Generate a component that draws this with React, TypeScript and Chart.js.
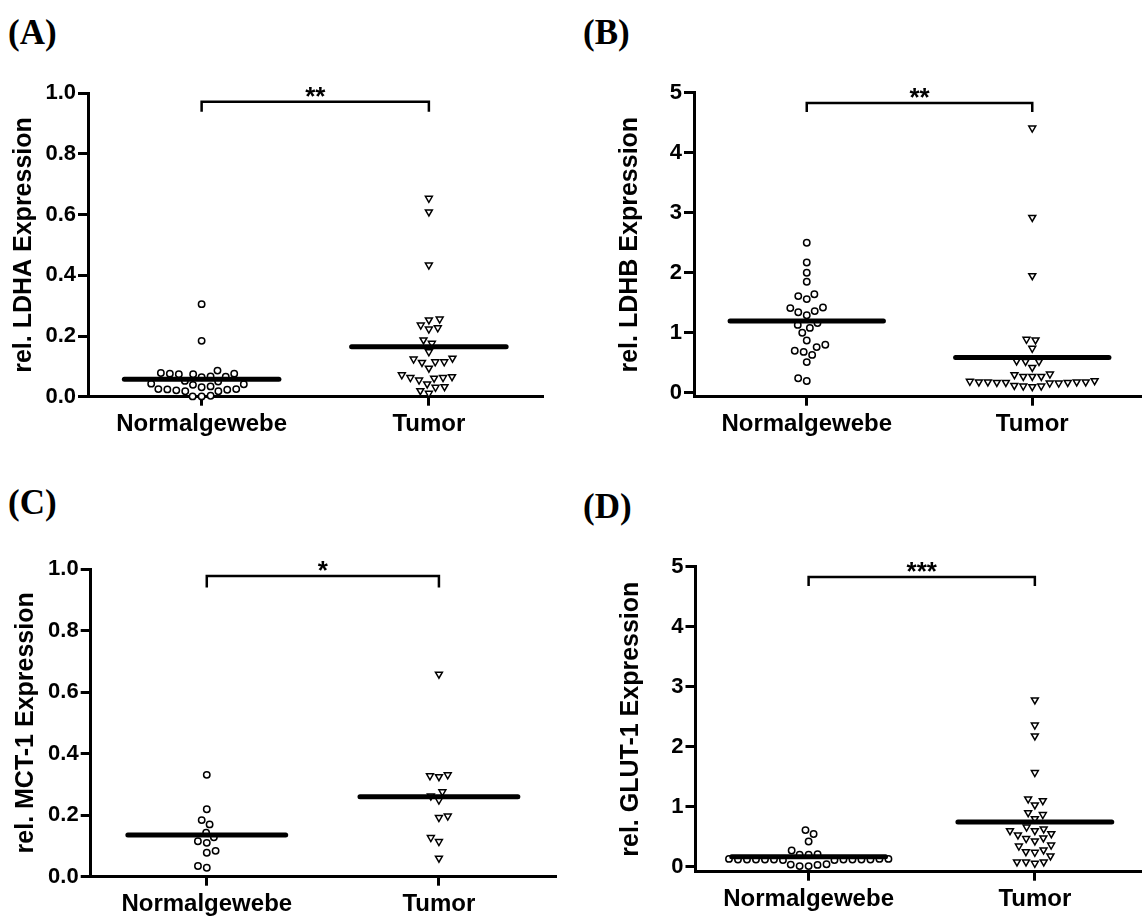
import { useEffect, useRef } from 'react';
import { Chart, registerables } from 'chart.js';

Chart.register(...registerables);

// ---- data -------------------------------------------------------------
const groups = ['Normalgewebe', 'Tumor'];

const ldhaNormal = [0.305, 0.184, 0.086, 0.076, 0.074, 0.067, 0.074, 0.076, 0.078, 0.066, 0.064, 0.052, 0.043, 0.039, 0.034, 0.041, 0.05, 0.031, 0.025, 0.023, 0.018, 0.018, 0.021, 0.024, 0.025, 0.003, 0.001, 0.001];
const ldhaTumor = [0.654, 0.609, 0.434, 0.256, 0.253, 0.236, 0.223, 0.227, 0.187, 0.176, 0.148, 0.124, 0.115, 0.113, 0.115, 0.127, 0.094, 0.066, 0.063, 0.072, 0.055, 0.061, 0.063, 0.031, 0.042, 0.033, 0.011, 0.02];

const ldhbNormal = [2.5, 2.17, 2.0, 1.85, 1.64, 1.56, 1.61, 1.41, 1.34, 1.29, 1.36, 1.42, 1.16, 1.08, 1.13, 1.0, 0.87, 0.76, 0.68, 0.63, 0.7, 0.8, 0.51, 0.195, 0.24];
const ldhbTumor = [4.41, 2.92, 1.95, 0.88, 0.74, 0.89, 0.52, 0.42, 0.52, 0.53, 0.3, 0.27, 0.27, 0.27, 0.31, 0.11, 0.1, 0.11, 0.12, 0.18, 0.17, 0.16, 0.16, 0.18, 0.17, 0.18, 0.19, 0.17, 0.18, 0.2];

const mct1Normal = [0.331, 0.219, 0.184, 0.17, 0.128, 0.143, 0.11, 0.115, 0.084, 0.078, 0.029, 0.035];
const mct1Tumor = [0.658, 0.331, 0.325, 0.328, 0.276, 0.262, 0.249, 0.192, 0.197, 0.127, 0.114, 0.06];

const glut1Normal = [0.61, 0.545, 0.42, 0.27, 0.2, 0.2, 0.21, 0.13, 0.12, 0.12, 0.11, 0.12, 0.13, 0.12, 0.12, 0.11, 0.12, 0.12, 0.13, 0.12, 0.12, 0.04, 0.035, 0.01, 0.01, 0.03];
const glut1Tumor = [2.78, 2.36, 2.18, 1.57, 1.1, 1.03, 1.13, 0.9, 0.8, 0.87, 0.66, 0.6, 0.6, 0.63, 0.55, 0.48, 0.43, 0.47, 0.53, 0.345, 0.25, 0.24, 0.28, 0.36, 0.18, 0.08, 0.056, 0.08, 0.08];

const fractionTicks = [0, 0.2, 0.4, 0.6, 0.8, 1.0];
const wholeTicks = [0, 1, 2, 3, 4, 5];

// ---- styling ----------------------------------------------------------
const FONT = "'Liberation Sans', Arial, Helvetica, sans-serif";
const SERIF = "'Liberation Serif', 'Times New Roman', serif";
const DOT_GAP = 9; // px between neighbouring markers in a column
const MEAN_HALF = 0.34; // half length of the mean bar, in category units

type Panel = {
  letter: string;
  yTitle: string;
  normal: number[];
  tumor: number[];
  yTicks: number[];
  decimals: number;
  yMin: number;
  yMax: number;
  xMax: number;
  stars: string;
  bracketTop: number;
  bracketFoot: number;
  box: { left: number; top: number; width: number; height: number };
  area: { left: number; right: number; top: number; bottom: number };
  titleX: number;
  letterAt: { left: number; top: number };
};

const panels: Panel[] = [
  {
    letter: '(A)', yTitle: 'rel. LDHA Expression', normal: ldhaNormal, tumor: ldhaTumor,
    yTicks: fractionTicks, decimals: 1, yMin: 0, yMax: 1, xMax: 1.5,
    stars: '**', bracketTop: 0.972, bracketFoot: 0.939,
    box: { left: 0, top: 50, width: 573, height: 410 },
    area: { left: 88, right: 542.5, top: 93.3, bottom: 396.7 },
    titleX: 24, letterAt: { left: 8, top: 15 },
  },
  {
    letter: '(B)', yTitle: 'rel. LDHB Expression', normal: ldhbNormal, tumor: ldhbTumor,
    yTicks: wholeTicks, decimals: 0, yMin: -0.0667, yMax: 5, xMax: 1.48,
    stars: '**', bracketTop: 4.83, bracketFoot: 4.68,
    box: { left: 573, top: 50, width: 573, height: 410 },
    area: { left: 694, right: 1146, top: 92.7, bottom: 396.7 },
    titleX: 630, letterAt: { left: 583, top: 15 },
  },
  {
    letter: '(C)', yTitle: 'rel. MCT-1 Expression', normal: mct1Normal, tumor: mct1Tumor,
    yTicks: fractionTicks, decimals: 1, yMin: 0, yMax: 1, xMax: 1.5,
    stars: '*', bracketTop: 0.977, bracketFoot: 0.94,
    box: { left: 0, top: 530, width: 573, height: 386 },
    area: { left: 90.7, right: 555, top: 569, bottom: 876.7 },
    titleX: 26, letterAt: { left: 8, top: 485 },
  },
  {
    letter: '(D)', yTitle: 'rel. GLUT-1 Expression', normal: glut1Normal, tumor: glut1Tumor,
    yTicks: wholeTicks, decimals: 0, yMin: -0.0833, yMax: 5, xMax: 1.467,
    stars: '***', bracketTop: 4.83, bracketFoot: 4.68,
    box: { left: 573, top: 530, width: 573, height: 386 },
    area: { left: 695.5, right: 1146, top: 566.7, bottom: 871.7 },
    titleX: 631, letterAt: { left: 583, top: 489 },
  },
];

const mean = (vals: number[]) => vals.reduce((s, v) => s + v, 0) / vals.length;

// Lays out one column of markers as a swarm: each value keeps its height and is
// pushed sideways just far enough not to overlap the markers placed before it.
function swarm(values: number[], center: number, xs: any, ys: any): number[] {
  const perUnit = xs.getPixelForValue(1) - xs.getPixelForValue(0);
  const order = values.map((_, i) => i).sort((a, b) => values[a] - values[b]);
  const placed: { x: number; y: number }[] = [];
  const out = new Array(values.length).fill(center);
  let flip = 1;
  for (const idx of order) {
    const py = ys.getPixelForValue(values[idx]);
    const cands = [0];
    for (const p of placed) {
      const dy = py - p.y;
      if (Math.abs(dy) < DOT_GAP) {
        const dx = Math.sqrt(DOT_GAP * DOT_GAP - dy * dy);
        cands.push(p.x - dx, p.x + dx);
      }
    }
    cands.sort((a, b) => {
      const d = Math.abs(a) - Math.abs(b);
      if (Math.abs(d) > 1e-6) return d;
      return flip * (a - b);
    });
    let chosen = 0;
    for (const c of cands) {
      const ok = placed.every((p) => (c - p.x) ** 2 + (py - p.y) ** 2 >= DOT_GAP * DOT_GAP - 0.01);
      if (ok) { chosen = c; break; }
    }
    if (chosen !== 0) flip = -flip;
    placed.push({ x: chosen, y: py });
    out[idx] = center + chosen / perUnit;
  }
  return out;
}

function PanelChart({ p }: { p: Panel }) {
  const ref = useRef<HTMLCanvasElement | null>(null);

  useEffect(() => {
    const canvas = ref.current;
    if (!canvas) return;
    const bold = (size: number) => ({ family: FONT, size, weight: 'bold' as const });
    const axisGrid = (len: number) => ({
      display: true, drawOnChartArea: false, drawTicks: true, tickLength: len, lineWidth: 3, color: '#000',
    });
    const axisBorder = { display: true, width: 3, color: '#000' };

    const significance = {
      id: 'significance',
      afterDatasetsDraw(chart: any) {
        const { ctx, scales } = chart;
        const x0 = scales.x.getPixelForValue(0);
        const x1 = scales.x.getPixelForValue(1);
        const yt = scales.y.getPixelForValue(p.bracketTop);
        const yf = scales.y.getPixelForValue(p.bracketFoot);
        ctx.save();
        ctx.strokeStyle = '#000';
        ctx.lineWidth = 2.5;
        ctx.beginPath();
        ctx.moveTo(x0, yf);
        ctx.lineTo(x0, yt);
        ctx.lineTo(x1, yt);
        ctx.lineTo(x1, yf);
        ctx.stroke();
        ctx.fillStyle = '#000';
        ctx.font = `bold 26px ${FONT}`;
        ctx.textAlign = 'center';
        ctx.textBaseline = 'alphabetic';
        ctx.fillText(p.stars, (x0 + x1) / 2, yt + 3);
        ctx.restore();
      },
    };

    const mN = mean(p.normal);
    const mT = mean(p.tumor);

    const chart = new Chart(canvas, {
      type: 'scatter',
      data: {
        datasets: [
          {
            type: 'scatter', label: groups[0], order: 1, clip: false as any,
            data: p.normal.map((v) => ({ x: 0, y: v })),
            pointStyle: 'circle', pointRadius: 3.2, pointBorderWidth: 1.5,
            pointBackgroundColor: '#fff', pointBorderColor: '#000',
          },
          {
            type: 'scatter', label: groups[1], order: 1, clip: false as any,
            data: p.tumor.map((v) => ({ x: 1, y: v })),
            pointStyle: 'triangle', pointRotation: 180, pointRadius: 4, pointBorderWidth: 1.5,
            pointBackgroundColor: '#fff', pointBorderColor: '#000',
          },
          {
            type: 'line', label: 'mean ' + groups[0], order: 0, clip: false as any,
            data: [{ x: -MEAN_HALF, y: mN }, { x: MEAN_HALF, y: mN }],
            borderColor: '#000', borderWidth: 5, borderCapStyle: 'round', pointRadius: 0,
          },
          {
            type: 'line', label: 'mean ' + groups[1], order: 0, clip: false as any,
            data: [{ x: 1 - MEAN_HALF, y: mT }, { x: 1 + MEAN_HALF, y: mT }],
            borderColor: '#000', borderWidth: 5, borderCapStyle: 'round', pointRadius: 0,
          },
        ] as any,
      },
      options: {
        responsive: false,
        animation: false,
        events: [],
        layout: {
          padding: {
            left: 0,
            top: p.area.top - p.box.top,
            right: p.box.left + p.box.width - p.area.right,
            bottom: 0,
          },
        },
        plugins: { legend: { display: false }, tooltip: { enabled: false }, title: { display: false } },
        scales: {
          x: {
            type: 'linear', min: -0.5, max: p.xMax,
            afterBuildTicks: (s: any) => { s.ticks = groups.map((_, i) => ({ value: i })); },
            afterFit: (s: any) => { s.height = p.box.top + p.box.height - p.area.bottom; },
            ticks: {
              callback: (v: any) => groups[Math.round(Number(v))] ?? '',
              font: bold(24), color: '#000', padding: 4, maxRotation: 0, autoSkip: false,
            },
            grid: axisGrid(9),
            border: axisBorder,
          },
          y: {
            type: 'linear', min: p.yMin, max: p.yMax,
            afterBuildTicks: (s: any) => { s.ticks = p.yTicks.map((v) => ({ value: v })); },
            afterFit: (s: any) => { s.width = p.area.left - p.box.left; },
            ticks: {
              callback: (v: any) => Number(v).toFixed(p.decimals),
              font: bold(22), color: '#000', padding: 2, autoSkip: false,
            },
            grid: axisGrid(10),
            border: axisBorder,
            title: {
              display: true, text: p.yTitle, font: bold(25), color: '#000',
              padding: { top: p.titleX - p.box.left - 15, bottom: 0 },
            },
          },
        },
      } as any,
      plugins: [significance],
    });

    const xs = chart.scales.x;
    const ys = chart.scales.y;
    const nx = swarm(p.normal, 0, xs, ys);
    const tx = swarm(p.tumor, 1, xs, ys);
    (chart.data.datasets[0] as any).data = p.normal.map((v, i) => ({ x: nx[i], y: v }));
    (chart.data.datasets[1] as any).data = p.tumor.map((v, i) => ({ x: tx[i], y: v }));
    chart.update('none');

    return () => chart.destroy();
  }, [p]);

  return (
    <canvas
      ref={ref}
      width={p.box.width}
      height={p.box.height}
      style={{ position: 'absolute', left: p.box.left, top: p.box.top, width: p.box.width, height: p.box.height }}
    />
  );
}

export default function App() {
  return (
    <div style={{ position: 'absolute', left: 0, top: 0, width: 1146, height: 916, background: '#fff', overflow: 'hidden' }}>
      {panels.map((p) => (
        <div
          key={p.letter}
          style={{
            position: 'absolute', left: p.letterAt.left, top: p.letterAt.top,
            font: `bold 35px ${SERIF}`, lineHeight: '35px', color: '#000', whiteSpace: 'nowrap',
          }}
        >
          {p.letter}
        </div>
      ))}
      {panels.map((p) => (
        <PanelChart key={p.yTitle} p={p} />
      ))}
    </div>
  );
}
